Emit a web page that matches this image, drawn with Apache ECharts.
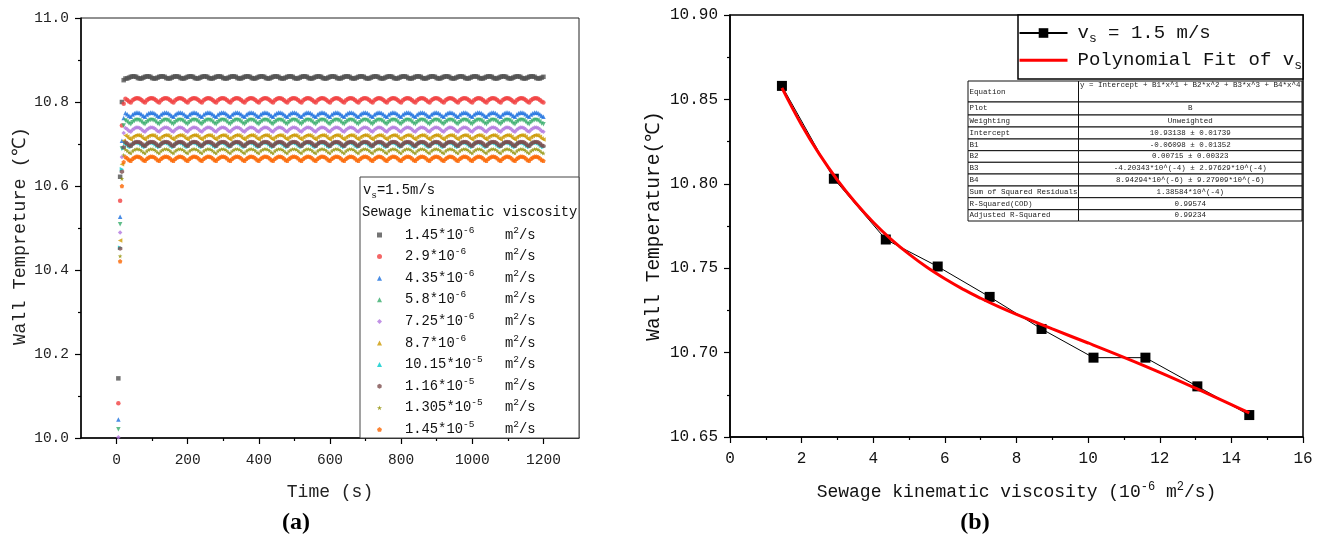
<!DOCTYPE html>
<html><head><meta charset="utf-8">
<script src="https://cdn.jsdelivr.net/npm/echarts@6/dist/echarts.min.js"></script>
<style>html,body{margin:0;padding:0;background:#fff}#c{width:1322px;height:538px}</style>
</head><body><div id="c"></div>
<script>
// ---------------- DATA (a) ----------------
const viscMant = ['1.45*10', '2.9*10', '4.35*10', '5.8*10', '7.25*10', '8.7*10', '10.15*10', '1.16*10', '1.305*10', '1.45*10'];
const viscExp = ['-6', '-6', '-6', '-6', '-6', '-6', '-5', '-5', '-5', '-5'];
// transient samples (time in s)
const startTimes = [5, 10, 15, 20];
const startVals = [
  [10.142, 10.622, 10.800, 10.852],
  [10.083, 10.565, 10.744, 10.796],
  [10.044, 10.527, 10.708, 10.762],
  [10.021, 10.509, 10.689, 10.744],
  [10.002, 10.489, 10.669, 10.726],
  [9.985, 10.470, 10.652, 10.708],
  [9.970, 10.453, 10.640, 10.690],
  [9.968, 10.451, 10.634, 10.692],
  [9.952, 10.433, 10.617, 10.674],
  [9.940, 10.421, 10.600, 10.657]
];
// steady-state mean levels
const steadyLevels = [10.858, 10.804, 10.770, 10.752, 10.734, 10.716, 10.698, 10.700, 10.683, 10.665];
// one observed ripple cycle (40 s, 5 s samples), offsets from the level
const archCycle = [-0.005, 0.000, 0.003, 0.005, 0.005, 0.004, 0.001, -0.003];
const stepCycle = [0.002, 0.003, 0.003, 0.002, -0.001, -0.002, -0.002, 0.000];
const steadyStart = 25, steadyEnd = 1200, sampleStep = 5;
const timeTicks = [0, 200, 400, 600, 800, 1000, 1200];
const timeMinorTicks = [100, 300, 500, 700, 900, 1100];

// ---------------- DATA (b) ----------------
const viscX = [1.45, 2.9, 4.35, 5.8, 7.25, 8.7, 10.15, 11.6, 13.05, 14.5];
const wallT = [10.858, 10.803, 10.767, 10.751, 10.733, 10.714, 10.697, 10.697, 10.680, 10.663];
const fitX = [1.45, 2, 2.5, 3, 3.5, 4, 4.5, 5, 5.5, 6, 6.5, 7, 7.5, 8, 9, 10, 11, 12, 13, 14, 14.5];
const fitY = [10.8568, 10.8348, 10.8174, 10.8022, 10.7889, 10.7772, 10.7671, 10.7583, 10.7505, 10.7437, 10.7376, 10.7322, 10.7272, 10.7226, 10.7140, 10.7057, 10.6972, 10.6883, 10.6789, 10.6692, 10.6643];
const tableLabels = ['Equation', 'Plot', 'Weighting', 'Intercept', 'B1', 'B2', 'B3', 'B4', 'Sum of Squared Residuals', 'R-Squared(COD)', 'Adjusted R-Squared'];
const tableValues = ['y = Intercept + B1*x^1 + B2*x^2 + B3*x^3 + B4*x^4', 'B', 'Unweighted', '10.93138 \u00b1 0.01739', '-0.06098 \u00b1 0.01352', '0.00715 \u00b1 0.00323', '-4.20343*10^(-4) \u00b1 2.97629*10^(-4)', '8.94294*10^(-6) \u00b1 9.27909*10^(-6)', '1.38584*10^(-4)', '0.99574', '0.99234'];

// ---------------- STYLES ----------------
const colors = ['#515151', '#F14040', '#1A6FDF', '#37AD6B', '#B177DE', '#CC9900', '#00CBCC', '#7D4E4E', '#8E8E00', '#FB6501'];
const symbols = ['rect', 'circle', 'triangle', 'triangle', 'diamond', 'triangle', 'triangle',
  'path://M5,0 L9.33,2.5 L9.33,7.5 L5,10 L0.67,7.5 L0.67,2.5 Z',
  'path://M5,0 L6.2,3.6 L10,3.6 L6.9,5.9 L8.1,9.5 L5,7.3 L1.9,9.5 L3.1,5.9 L0,3.6 L3.8,3.6 Z',
  'path://M5,0 L10,3.8 L8.1,9.5 L1.9,9.5 L0,3.8 Z'];
const rotations = [0, 0, 0, 180, 0, 90, -90, 0, 0, 0];
const MONO = 'Liberation Mono, DejaVu Sans Mono, monospace';

const seriesNames = viscMant.map((m, i) => m + '^' + viscExp[i] + '#' + i);

function buildSeriesData(i) {
  const d = startTimes.map((t, k) => [t, startVals[i][k]]);
  const cyc = i === 0 ? stepCycle : archCycle;
  for (let t = steadyStart; t <= steadyEnd; t += sampleStep) {
    const k = Math.round(t / sampleStep) % cyc.length;
    d.push([t, +(steadyLevels[i] + cyc[k]).toFixed(4)]);
  }
  return d;
}

const leftSeries = seriesNames.map((n, i) => ({
  type: 'scatter', name: n, xAxisIndex: 0, yAxisIndex: 0,
  data: buildSeriesData(i), symbol: symbols[i], symbolRotate: rotations[i],
  symbolSize: 4.5, itemStyle: { color: colors[i] }, clip: true, z: 2
}));

// legend rich styles for (a)
const charW = 13.8 * 0.6;
const legRich = {
  v: { fontFamily: MONO, fontSize: 13.8, lineHeight: 20, color: '#111', padding: [0, 0, 0, 18] },
  u: { fontFamily: MONO, fontSize: 13.8, lineHeight: 20, color: '#111' },
  s: { fontFamily: MONO, fontSize: 9.5, lineHeight: 11, verticalAlign: 'top', color: '#111' }
};
viscMant.forEach((m, i) => {
  legRich['e' + i] = { fontFamily: MONO, fontSize: 9.5, lineHeight: 11, verticalAlign: 'top', color: '#111', width: 100 - m.length * charW, align: 'left' };
});

// table graphics
const tblX = [968, 1078.5, 1302];
const tblY = [81, 102, 115, 127, 139, 150.7, 162.3, 174, 186, 197.7, 209.7, 221];
const tableGraphics = [];
for (let r = 0; r < tableLabels.length; r++) {
  const y0 = tblY[r], y1 = tblY[r + 1];
  tableGraphics.push({ type: 'rect', z: 10, shape: { x: tblX[0], y: y0, width: tblX[1] - tblX[0], height: y1 - y0 }, style: { fill: '#fff', stroke: '#111', lineWidth: 1 } });
  tableGraphics.push({ type: 'rect', z: 10, shape: { x: tblX[1], y: y0, width: tblX[2] - tblX[1], height: y1 - y0 }, style: { fill: '#fff', stroke: '#111', lineWidth: 1 } });
  tableGraphics.push({ type: 'text', z: 11, x: tblX[0] + 1.5, y: r === 0 ? (y0 + y1) / 2 + 1 : (y0 + y1) / 2,
    style: { text: tableLabels[r], fontFamily: MONO, fontSize: 7.5, fill: '#222', verticalAlign: 'middle', align: 'left' } });
  tableGraphics.push({ type: 'text', z: 11, x: (tblX[1] + tblX[2]) / 2, y: r === 0 ? y0 + 4.5 : (y0 + y1) / 2,
    style: { text: tableValues[r], fontFamily: MONO, fontSize: 7.5, fill: '#222', verticalAlign: 'middle', align: 'center' } });
}

const chart = echarts.init(document.getElementById('c'), null, { renderer: 'canvas', width: 1322, height: 538 });

const option = {
  animation: false,
  backgroundColor: '#fff',
  grid: [
    { left: 81, top: 18, width: 498, height: 420, show: true, borderColor: '#222', borderWidth: 1, backgroundColor: 'transparent' },
    { left: 730, top: 15, width: 573, height: 422, show: true, borderColor: '#000', borderWidth: 1.5, backgroundColor: 'transparent' }
  ],
  xAxis: [
    { type: 'value', gridIndex: 0, min: -100, max: 1300, interval: 100,
      axisLine: { show: true, onZero: false, lineStyle: { color: '#000', width: 1.5 } },
      axisTick: { show: true, length: 6, customValues: timeTicks, lineStyle: { color: '#000', width: 1.2 } },
      axisLabel: { customValues: timeTicks, formatter: v => (v % 200 === 0 && v >= 0 && v <= 1200) ? String(v) : '', fontFamily: MONO, fontSize: 14.5, color: '#222', margin: 15 },
      splitLine: { show: false },
      name: 'Time (s)', nameLocation: 'middle', nameGap: 45, nameTextStyle: { fontFamily: MONO, fontSize: 18, color: '#222' } },
    { type: 'value', gridIndex: 0, min: -100, max: 1300, interval: 100, position: 'bottom',
      axisLine: { show: false }, axisLabel: { show: false }, splitLine: { show: false },
      axisTick: { show: true, length: 3, customValues: timeMinorTicks, lineStyle: { color: '#000', width: 1.2 } } },
    { type: 'value', gridIndex: 1, min: 0, max: 16, interval: 2,
      axisLine: { show: true, onZero: false, lineStyle: { color: '#000', width: 1.5 } },
      axisTick: { show: true, length: 6, lineStyle: { color: '#000', width: 1.2 } },
      minorTick: { show: true, splitNumber: 2, length: 3, lineStyle: { color: '#000', width: 1.2 } },
      axisLabel: { fontFamily: MONO, fontSize: 16, color: '#111', margin: 14 },
      splitLine: { show: false },
      name: 'Sewage kinematic viscosity (10{s|-6} m{s|2}/s)', nameLocation: 'middle', nameGap: 44,
      nameTextStyle: { fontFamily: MONO, fontSize: 18, color: '#111', lineHeight: 22,
        rich: { s: { fontFamily: MONO, fontSize: 12, lineHeight: 12, verticalAlign: 'top', color: '#111' } } } }
  ],
  yAxis: [
    { type: 'value', gridIndex: 0, min: 10, max: 11, interval: 0.2,
      axisLine: { show: true, onZero: false, lineStyle: { color: '#000', width: 1.5 } },
      axisTick: { show: true, length: 6, lineStyle: { color: '#000', width: 1.2 } },
      minorTick: { show: true, splitNumber: 2, length: 3, lineStyle: { color: '#000', width: 1.2 } },
      axisLabel: { formatter: v => v.toFixed(1), fontFamily: MONO, fontSize: 14.5, color: '#222', margin: 12 },
      splitLine: { show: false },
      name: 'Wall Tempreture (\u2103)', nameLocation: 'middle', nameGap: 51, nameRotate: 90,
      nameTextStyle: { fontFamily: MONO, fontSize: 18.5, color: '#222', padding: [0, 16, 0, 0] } },
    { type: 'value', gridIndex: 1, min: 10.65, max: 10.9, interval: 0.05,
      axisLine: { show: true, onZero: false, lineStyle: { color: '#000', width: 1.5 } },
      axisTick: { show: true, length: 6, lineStyle: { color: '#000', width: 1.2 } },
      minorTick: { show: true, splitNumber: 2, length: 3, lineStyle: { color: '#000', width: 1.2 } },
      axisLabel: { formatter: v => v.toFixed(2), fontFamily: MONO, fontSize: 16, color: '#111', margin: 12 },
      splitLine: { show: false },
      name: 'Wall Temperature(\u2103)', nameLocation: 'middle', nameGap: 66, nameRotate: 90,
      nameTextStyle: { fontFamily: MONO, fontSize: 19.5, color: '#111' } }
  ],
  legend: [
    { orient: 'vertical', left: 372, top: 220, itemWidth: 5, itemHeight: 5, itemGap: 1.6,
      selectedMode: false, z: 12, data: seriesNames,
      formatter: name => { const i = seriesNames.indexOf(name); return '{v|' + viscMant[i] + '}{e' + i + '|' + viscExp[i] + '}{u|m}{s|2}{u|/s}'; },
      textStyle: { lineHeight: 20, rich: legRich } },
    { orient: 'vertical', left: 1013, top: 16, itemWidth: 48, itemHeight: 12, itemGap: 3.3,
      selectedMode: false, z: 12,
      data: ['vs', { name: 'fit', itemStyle: { opacity: 0 }, lineStyle: { width: 3, color: '#ff0000' } }],
      formatter: name => name === 'vs' ? '{f|v}{b|s}{t| = 1.5 m/s}' : '{f|Polynomial Fit of v}{b|s}',
      textStyle: { lineHeight: 24, rich: {
        f: { fontFamily: MONO, fontSize: 19, lineHeight: 24, color: '#111', padding: [0, 0, 0, 5] },
        t: { fontFamily: MONO, fontSize: 19, lineHeight: 24, color: '#111' },
        b: { fontFamily: MONO, fontSize: 13, lineHeight: 13, verticalAlign: 'bottom', color: '#111' } } } }
  ],
  series: leftSeries.concat([
    { type: 'line', name: 'vs', xAxisIndex: 2, yAxisIndex: 1, data: viscX.map((x, i) => [x, wallT[i]]),
      symbol: 'rect', symbolSize: 10, showSymbol: true, itemStyle: { color: '#000' }, lineStyle: { color: '#000', width: 1 }, z: 3 },
    { type: 'line', name: 'fit', xAxisIndex: 2, yAxisIndex: 1, data: fitX.map((x, i) => [x, fitY[i]]),
      symbol: 'none', smooth: 0.4, itemStyle: { color: '#ff0000' }, lineStyle: { color: '#ff0000', width: 3 }, z: 4 }
  ]),
  graphic: [
    { type: 'rect', z: 8, shape: { x: 360, y: 177, width: 219, height: 261 }, style: { fill: '#fff', stroke: '#444', lineWidth: 1 } },
    { type: 'text', z: 11, x: 363, y: 190, style: { text: '{a|v}{b|s}{a|=1.5m/s}', verticalAlign: 'middle',
      rich: { a: { fontFamily: MONO, fontSize: 13.8, lineHeight: 20, fill: '#111' }, b: { fontFamily: MONO, fontSize: 9.5, lineHeight: 11, verticalAlign: 'bottom', fill: '#111' } } } },
    { type: 'text', z: 11, x: 362, y: 212, style: { text: 'Sewage kinematic viscosity', fontFamily: MONO, fontSize: 13.8, fill: '#111', verticalAlign: 'middle' } },
    { type: 'rect', z: 8, shape: { x: 1018, y: 15, width: 285, height: 64 }, style: { fill: '#fff', stroke: '#000', lineWidth: 1.5 } },
    { type: 'text', z: 11, x: 296, y: 523, style: { text: '(a)', fontFamily: 'Liberation Serif, serif', fontWeight: 'bold', fontSize: 24, fill: '#000', align: 'center', verticalAlign: 'middle' } },
    { type: 'text', z: 11, x: 975, y: 523, style: { text: '(b)', fontFamily: 'Liberation Serif, serif', fontWeight: 'bold', fontSize: 24, fill: '#000', align: 'center', verticalAlign: 'middle' } }
  ].concat(tableGraphics)
};
chart.setOption(option);
</script></body></html>
